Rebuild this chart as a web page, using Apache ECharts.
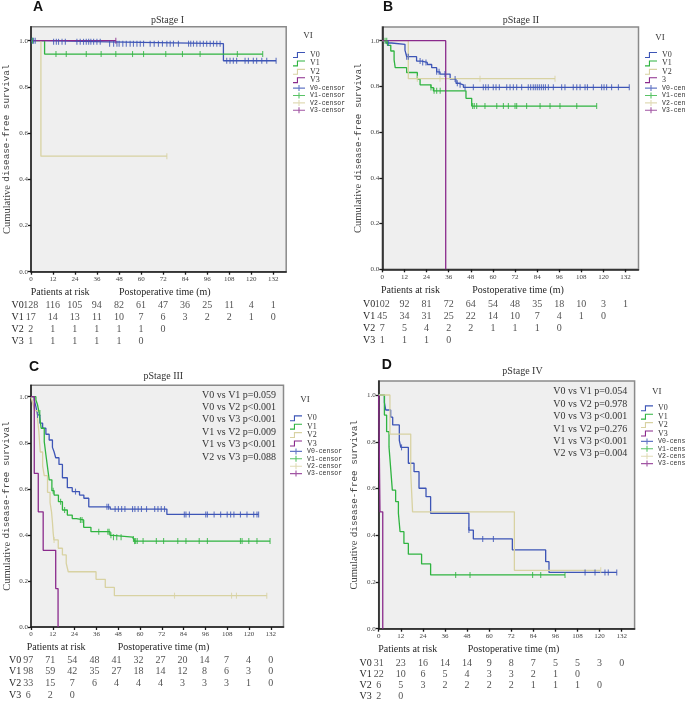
<!DOCTYPE html>
<html>
<head>
<meta charset="utf-8">
<script src="https://cdn.jsdelivr.net/npm/echarts@6/dist/echarts.min.js"></script>
<style>
html, body { margin: 0; padding: 0; background: #fff; }
#main { width: 685px; height: 702px; }
</style>
</head>
<body>
<div id="main"></div>
<script>
// ---------- data ----------
var monthTicks = [0, 12, 24, 36, 48, 60, 72, 84, 96, 108, 120, 132];
var survTicks = [0, 0.2, 0.4, 0.6, 0.8, 1.0];
var groups = ['V0', 'V1', 'V2', 'V3'];

// pStage I : step curves [month, survival], censor times, numbers at risk
var aV0 = [[0, 1], [7, 0.995], [42.2, 0.987], [104.8, 0.913], [133.5, 0.913]];
var aV1 = [[0, 1], [7.4, 0.942], [126.2, 0.942]];
var aV2 = [[0, 1], [5.4, 0.5], [74, 0.5]];
var aV3 = [[0, 1], [46.2, 1]];
var aV0cens = [0.5, 1.4, 2.3, 12.3, 13.8, 15, 16.9, 18.7, 25, 26.8, 28.6, 30.1, 31.4, 32.6, 34.1, 35.9, 37.7,
  42.8, 45, 46.8, 48, 50, 51.9, 54, 55.8, 57.7, 59.5, 61.3, 64.9, 67.1, 69.4, 71.6, 74, 75.8, 77.6, 80.3,
  85.8, 87, 88.5, 90.3, 92.1, 93.9, 95.7, 97.6, 99.4, 101.2, 103, 106.6, 108.4, 110.2, 112, 116.6, 118.4,
  121.1, 122.9, 125.7, 128.4, 133.5];
var aV1cens = [0.8, 13.6, 19.2, 30.1, 38.2, 46.2, 55.3, 61.3, 73.4, 82.5, 92.1, 112.4, 126.2];
var aV2cens = [74];
var aV3cens = [46.2];
var aRiskV0 = [128, 116, 105, 94, 82, 61, 47, 36, 25, 11, 4, 1];
var aRiskV1 = [17, 14, 13, 11, 10, 7, 6, 3, 2, 2, 1, 0];
var aRiskV2 = [2, 1, 1, 1, 1, 1, 0];
var aRiskV3 = [1, 1, 1, 1, 1, 0];

// pStage II
var bV0 = [[0, 1], [2, 0.99], [5, 0.984], [12.3, 0.959], [13.2, 0.93], [18.6, 0.911], [21.3, 0.905],
  [24.4, 0.896], [26.8, 0.882], [29.5, 0.864], [31.3, 0.854], [36.8, 0.832], [40, 0.814], [41.3, 0.807],
  [44, 0.796], [134, 0.796]];
var bV1 = [[0, 1], [2.8, 0.98], [4.6, 0.955], [6.4, 0.916], [7, 0.882], [13.2, 0.861], [19, 0.832],
  [20.5, 0.807], [26.4, 0.795], [27.7, 0.781], [45.4, 0.748], [48.5, 0.714], [116.3, 0.714]];
var bV2 = [[0, 1], [14.1, 0.834], [93.7, 0.834]];
var bV3 = [[0, 1], [34.4, 0]];
var bV0cens = [3.3, 13.2, 14.1, 20.5, 21.9, 23.7, 29.5, 30.8, 34, 39.5, 40.7, 42.2, 44.9, 49.4, 54.8, 56.1,
  57.5, 60.2, 61.7, 63.5, 67.5, 69.3, 71.1, 72.9, 75.6, 79.2, 80.5, 81.9, 83, 84.1, 85.2, 86.3, 87.4, 88.5,
  90.1, 92.8, 97.3, 99.1, 103.6, 105.5, 107.3, 110, 111.3, 114.5, 119, 120.3, 121.7, 124.4, 128.1, 134];
var bV1cens = [1.5, 2.4, 26.4, 28.1, 29.5, 31.4, 49, 49.9, 51.2, 55.7, 62.1, 65.7, 68.4, 72, 72.9, 78.3,
  85.6, 91, 96.4, 105.5, 116.3];
var bV2cens = [19, 31.3, 53, 93.7];
var bV3cens = [];
var bRiskV0 = [102, 92, 81, 72, 64, 54, 48, 35, 18, 10, 3, 1];
var bRiskV1 = [45, 34, 31, 25, 22, 14, 10, 7, 4, 1, 0];
var bRiskV2 = [7, 5, 4, 2, 2, 1, 1, 1, 0];
var bRiskV3 = [1, 1, 1, 0];

// pStage III
var cV0 = [[0, 1], [1.8, 0.986], [2.7, 0.957], [3.6, 0.921], [4.9, 0.885], [6.4, 0.863], [8.2, 0.837],
  [10, 0.812], [11.8, 0.78], [12.7, 0.761], [13.6, 0.735], [15.4, 0.706], [17.3, 0.648], [20, 0.605],
  [22.7, 0.588], [26.7, 0.573], [29.1, 0.559], [31.8, 0.522], [43.6, 0.512], [74.8, 0.489], [125.3, 0.489]];
var cV1 = [[0, 1], [2.7, 0.986], [3.6, 0.965], [4.5, 0.929], [5.6, 0.863], [7.3, 0.805], [8.2, 0.748],
  [9, 0.7], [10, 0.639], [11.5, 0.592], [12.7, 0.573], [15.1, 0.544], [17.3, 0.508], [20, 0.486],
  [22.7, 0.471], [25, 0.465], [29, 0.433], [33, 0.414], [43.5, 0.398], [45, 0.39], [56, 0.382],
  [57, 0.373], [131.6, 0.373]];
var cV2 = [[0, 1], [1, 0.97], [2, 0.94], [3.5, 0.91], [4.3, 0.85], [5.1, 0.76], [6.4, 0.7], [7.3, 0.657],
  [9.1, 0.585], [10.5, 0.54], [11.3, 0.5], [11.8, 0.455], [12.2, 0.41], [12.6, 0.378], [15, 0.342],
  [17.3, 0.313], [19.4, 0.276], [20.5, 0.24], [35.8, 0.207], [40.9, 0.172], [45.9, 0.136], [129.8, 0.136]];
var cV3 = [[0, 1], [1.8, 0.667], [4, 0.5], [6.7, 0.333], [13.6, 0.167], [14.9, 0]];
var cV0cens = [3.6, 24.5, 41.8, 42.7, 46.3, 48.1, 49.9, 51.7, 55.9, 57.2, 59, 60.8, 63.6, 68.1, 69.9, 71.7,
  73.5, 84.4, 85.3, 87.2, 96.2, 97.1, 100.8, 104.4, 108, 109.9, 111.7, 115.3, 118.9, 122.6, 124.4, 125.3];
var cV1cens = [4.9, 12.2, 16.3, 18.5, 27.2, 28.1, 37.3, 42.3, 43, 44, 45.4, 47.2, 49.6, 56.4, 57, 57.6,
  58.5, 61.7, 69, 73, 80.8, 85.3, 92.6, 97.1, 115.3, 116.2, 119.9, 124.4, 131.6];
var cV2cens = [12.7, 79, 110.4, 113.1, 129.8];
var cV3cens = [];
var cRiskV0 = [97, 71, 54, 48, 41, 32, 27, 20, 14, 7, 4, 0];
var cRiskV1 = [98, 59, 42, 35, 27, 18, 14, 12, 8, 6, 3, 0];
var cRiskV2 = [33, 15, 7, 6, 4, 4, 4, 3, 3, 3, 1, 0];
var cRiskV3 = [6, 2, 0];
var cPvalues = ['V0 vs V1 p=0.059', 'V0 vs V2 p<0.001', 'V0 vs V3 p<0.001',
  'V1 vs V2 p=0.009', 'V1 vs V3 p<0.001', 'V2 vs V3 p=0.088'];

// pStage IV
var dV0 = [[0, 1], [3.1, 0.968], [3.8, 0.936], [6.5, 0.905], [7.6, 0.872], [11.2, 0.806], [12, 0.776],
  [16.1, 0.708], [19.2, 0.672], [21.9, 0.601], [25.7, 0.565], [28.2, 0.494], [49, 0.422], [51.4, 0.384],
  [72.6, 0.337], [90.7, 0.287], [92.5, 0.241], [129.3, 0.241]];
var dV1 = [[0, 1], [3.1, 0.914], [4.3, 0.843], [5.6, 0.778], [6.5, 0.686], [7.4, 0.593], [9.2, 0.544],
  [10.7, 0.494], [11.6, 0.415], [13.7, 0.365], [16.1, 0.319], [23.3, 0.277], [28.2, 0.23], [101.2, 0.23]];
var dV2 = [[0, 1], [6.1, 0.833], [17.4, 0.667], [18.4, 0.5], [73.7, 0.25], [120.6, 0.25]];
var dV3 = [[0, 1], [0.7, 0.5], [2.2, 0]];
var dV0cens = [12.4, 49, 56.5, 62.3, 112.1, 117.5, 122.9, 124.7, 129.3];
var dV1cens = [41.8, 49.6, 83.6, 88, 101.2];
var dV2cens = [120.6];
var dV3cens = [];
var dRiskV0 = [31, 23, 16, 14, 14, 9, 8, 7, 5, 5, 3, 0];
var dRiskV1 = [22, 10, 6, 5, 4, 3, 3, 2, 1, 0];
var dRiskV2 = [6, 5, 3, 2, 2, 2, 2, 1, 1, 1, 0];
var dRiskV3 = [2, 0];
var dPvalues = ['V0 vs V1 p=0.054', 'V0 vs V2 p=0.978', 'V0 vs V3 p<0.001',
  'V1 vs V2 p=0.276', 'V1 vs V3 p<0.001', 'V2 vs V3 p=0.004'];

// ---------- layout ----------
var colors = { V0: '#3d55b6', V1: '#2fb440', V2: '#d8d2a2', V3: '#8a2a8c' };
var serif = '"Liberation Serif", "DejaVu Serif", serif';
var mono = '"Liberation Mono", "DejaVu Sans Mono", monospace';
var textColor = '#262626';

var panels = [
  { letter: 'A', title: 'pStage I', left: 30.7, top: 26.8, w: 255.5, h: 244.9, yMax: 1.06,
    riskTop: 299.8, riskH: 47.2, titleX: 167.5, titleY: 20, letterX: 33, letterY: 7,
    legLeft: 288, legTop: 46, viX: 308, viY: 36, patY: 292.7, patX: 30.7, postX: 119,
    curves: [aV0, aV1, aV2, aV3], cens: [aV0cens, aV1cens, aV2cens, aV3cens],
    risk: [aRiskV0, aRiskV1, aRiskV2, aRiskV3], lineNames: ['V0', 'V1', 'V2', 'V3'] },
  { letter: 'B', title: 'pStage II', left: 382.3, top: 27, w: 256.2, h: 242.3, yMax: 1.06,
    riskTop: 298.3, riskH: 47.6, titleX: 521, titleY: 20, letterX: 383, letterY: 7.5,
    legLeft: 640, legTop: 46, viX: 660, viY: 38, patY: 290.7, patX: 381, postX: 472.3,
    curves: [bV0, bV1, bV2, bV3], cens: [bV0cens, bV1cens, bV2cens, bV3cens],
    risk: [bRiskV0, bRiskV1, bRiskV2, bRiskV3], lineNames: ['V0', 'V1', 'V2', '3'] },
  { letter: 'C', title: 'pStage III', left: 28.3, top: 385.2, w: 255.2, h: 241.8, yMax: 1.05,
    riskTop: 654, riskH: 47.6, titleX: 163.3, titleY: 376.7, letterX: 29, letterY: 367,
    legLeft: 285, legTop: 409.3, viX: 305, viY: 400, patY: 647, patX: 26.7, postX: 117.7,
    pvals: cPvalues, pX: 276, pY: 395,
    curves: [cV0, cV1, cV2, cV3], cens: [cV0cens, cV1cens, cV2cens, cV3cens],
    risk: [cRiskV0, cRiskV1, cRiskV2, cRiskV3], lineNames: ['V0', 'V1', 'V2', 'V3'] },
  { letter: 'D', title: 'pStage IV', left: 378.7, top: 381, w: 255.9, h: 247.7, yMax: 1.06,
    riskTop: 657.5, riskH: 46.7, titleX: 522.5, titleY: 371.7, letterX: 381.7, letterY: 365.5,
    legLeft: 636, legTop: 399.3, viX: 656.7, viY: 391.7, patY: 649.3, patX: 378.3, postX: 467.7,
    pvals: dPvalues, pX: 627.3, pY: 391.7,
    curves: [dV0, dV1, dV2, dV3], cens: [dV0cens, dV1cens, dV2cens, dV3cens],
    risk: [dRiskV0, dRiskV1, dRiskV2, dRiskV3], lineNames: ['V0', 'V1', 'V2', 'V3'] }
];

var stepIcon = 'path://M0,4.9 L3.9,4.9 L3.9,0 L12,0 L12,1.1 L5,1.1 L5,6 L0,6 Z';
var plusIcon = 'path://M0,2.45 L12,2.45 L12,3.55 L0,3.55 Z M5.45,0 L6.55,0 L6.55,6 L5.45,6 Z';

// survival value of a step curve at time t
function survAt(curve, t) {
  var s = curve[0][1];
  for (var i = 0; i < curve.length; i++) {
    if (curve[i][0] <= t) s = curve[i][1];
  }
  return s;
}

var grid = [], xAxis = [], yAxis = [], series = [], legend = [], graphic = [];

panels.forEach(function (p, k) {
  var gi = 2 * k;
  grid.push({ left: p.left, top: p.top, width: p.w, height: p.h, show: true,
    backgroundColor: '#efefef', borderColor: '#8a8a8a', borderWidth: 1.5 });
  grid.push({ left: p.left, top: p.riskTop, width: p.w, height: p.riskH });

  xAxis.push({
    gridIndex: gi, type: 'value', min: 0, max: 139,
    axisLine: { show: true, onZero: false, lineStyle: { color: '#1a1a1a', width: 1.5 } },
    axisTick: { show: true, customValues: monthTicks, length: 3, lineStyle: { color: '#1a1a1a', width: 1.3 } },
    axisLabel: { customValues: monthTicks, fontSize: 7, color: '#444', fontFamily: serif, margin: 4 },
    splitLine: { show: false }
  });
  xAxis.push({ gridIndex: gi + 1, type: 'value', min: 0, max: 139, show: false });

  yAxis.push({
    gridIndex: gi, type: 'value', min: 0, max: p.yMax,
    name: '{a|Cumulative} {b|disease-free survival}', nameLocation: 'middle', nameGap: 18,
    nameTextStyle: { rich: { a: { fontFamily: serif, fontSize: 10.5, color: '#444' },
                             b: { fontFamily: mono, fontSize: 9.3, color: '#444' } } },
    axisLine: { show: true, lineStyle: { color: '#1a1a1a', width: 1.5 } },
    axisTick: { show: true, customValues: survTicks, length: 3, lineStyle: { color: '#1a1a1a', width: 1.3 } },
    axisLabel: { customValues: survTicks, fontSize: 7, color: '#444', fontFamily: serif, margin: 3,
      formatter: function (v) { return v.toFixed(1); } },
    splitLine: { show: false }
  });
  yAxis.push({
    gridIndex: gi + 1, type: 'category', data: groups, inverse: true,
    axisLine: { show: false }, axisTick: { show: false },
    axisLabel: { interval: 0, fontSize: 10, color: textColor, fontFamily: serif, margin: 7 }
  });

  var legData = [];
  groups.forEach(function (g, j) {
    var curve = p.curves[j];
    series.push({
      type: 'line', name: p.lineNames[j], xAxisIndex: gi, yAxisIndex: gi,
      data: curve, step: 'end', symbol: 'none', animation: false, z: 3,
      lineStyle: { width: 1.3, color: colors[g] }, itemStyle: { color: colors[g] }
    });
    series.push({
      type: 'scatter', name: g + '-censor', xAxisIndex: gi, yAxisIndex: gi, animation: false, z: 4,
      data: p.cens[j].map(function (t) { return [t, survAt(curve, t)]; }),
      symbol: 'rect', symbolSize: [1.1, 6], itemStyle: { color: colors[g] }
    });
    var rows = [];
    p.risk[j].forEach(function (n, i) { rows.push([monthTicks[i], g, n]); });
    series.push({
      type: 'scatter', name: 'risk' + p.letter + g, xAxisIndex: gi + 1, yAxisIndex: gi + 1,
      data: rows, symbolSize: 1, itemStyle: { color: 'transparent' }, animation: false,
      label: { show: true, position: 'inside', fontSize: 10, fontFamily: serif, color: textColor,
        formatter: function (q) { return q.value[2]; } }
    });
  });
  p.lineNames.forEach(function (n) { legData.push({ name: n, icon: stepIcon }); });
  groups.forEach(function (g) { legData.push({ name: g + '-censor', icon: plusIcon }); });

  legend.push({
    orient: 'vertical', left: p.legLeft, top: p.legTop, itemWidth: 12, itemHeight: 6, itemGap: 0.4,
    selectedMode: false, data: legData, itemStyle: { borderWidth: 0 },
    formatter: function (name) {
      return name.indexOf('censor') >= 0 ? '{m|' + name + '}' : '{s|' + name + '}';
    },
    textStyle: { rich: {
      s: { fontFamily: serif, fontSize: 8, color: '#333', lineHeight: 8 },
      m: { fontFamily: mono, fontSize: 6.5, color: '#333', lineHeight: 8 } } }
  });

  graphic.push({ type: 'text', x: p.letterX, y: p.letterY,
    style: { text: p.letter, font: 'bold 14px "Liberation Sans", Arial, sans-serif', fill: '#111',
      align: 'left', verticalAlign: 'middle' } });
  graphic.push({ type: 'text', x: p.titleX, y: p.titleY,
    style: { text: p.title, font: '10px ' + serif, fill: '#333', align: 'center', verticalAlign: 'middle' } });
  graphic.push({ type: 'text', x: p.viX, y: p.viY,
    style: { text: 'VI', font: '9px ' + serif, fill: '#333', align: 'center', verticalAlign: 'middle' } });
  graphic.push({ type: 'text', x: p.patX, y: p.patY,
    style: { text: 'Patients at risk', font: '10px ' + serif, fill: textColor, align: 'left', verticalAlign: 'middle' } });
  graphic.push({ type: 'text', x: p.postX, y: p.patY,
    style: { text: 'Postoperative time (m)', font: '10px ' + serif, fill: textColor, align: 'left', verticalAlign: 'middle' } });
  if (p.pvals) {
    p.pvals.forEach(function (txt, i) {
      graphic.push({ type: 'text', x: p.pX, y: p.pY + i * 12.4,
        style: { text: txt, font: '10px ' + serif, fill: '#333', align: 'right', verticalAlign: 'middle' } });
    });
  }
});

var chart = echarts.init(document.getElementById('main'));
chart.setOption({
  backgroundColor: '#ffffff',
  animation: false,
  grid: grid,
  xAxis: xAxis,
  yAxis: yAxis,
  legend: legend,
  series: series,
  graphic: graphic
});
</script>
</body>
</html>
